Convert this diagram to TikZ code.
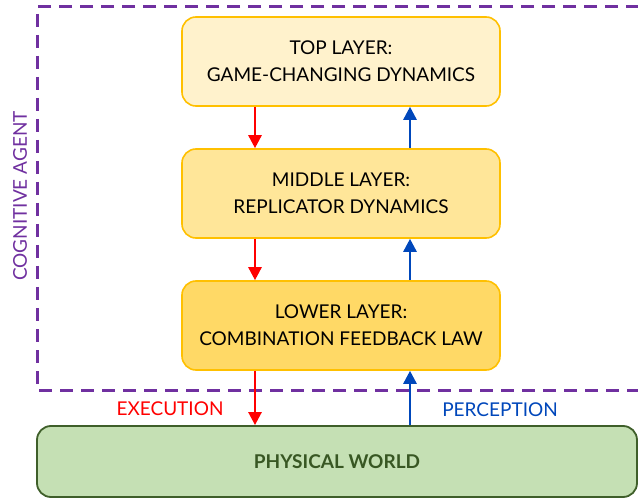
\documentclass[tikz,border=0pt]{standalone}
\usepackage{fontspec}
\setmainfont{Lato}
\usetikzlibrary{arrows.meta}
\usetikzlibrary{positioning}

\definecolor{agentpurple}{HTML}{7030A0}
\definecolor{layerline}{HTML}{FFC000}
\definecolor{toplayer}{HTML}{FFF2CC}
\definecolor{midlayer}{HTML}{FFE699}
\definecolor{lowlayer}{HTML}{FFD966}
\definecolor{worldfill}{HTML}{C5E0B4}
\definecolor{worldline}{HTML}{3F5F2A}
\definecolor{worldtext}{HTML}{385723}
\definecolor{percblue}{HTML}{0047BB}

\tikzset{
layer/.style={rectangle,rounded corners=14pt,draw=layerline,line width=1.6pt,minimum width=318pt,minimum height=89pt,align=center,font=\fontsize{19}{27}\selectfont},
execline/.style={draw=red,line width=2.6pt,-{Triangle[length=13pt,width=13pt]}},
percline/.style={draw=percblue,line width=2.6pt,-{Triangle[length=13pt,width=13pt]}}
}

\begin{document}
\begin{tikzpicture}[x=1pt,y=-1pt]
\clip (0,0) rectangle (638,500);
\fill[white] (0,0) rectangle (638,500);
\draw[agentpurple,line width=3pt,dash pattern=on 13pt off 8pt] (660,7) -- (37,7) -- (37,390) -- (660,390);
\node[text=agentpurple,rotate=90,font=\fontsize{19}{22}\selectfont] (agent) at (20,196) {COGNITIVE AGENT};

\node[layer,fill=toplayer] (top) at (341,61.5) {TOP LAYER:\\GAME-CHANGING DYNAMICS};
\node[layer,fill=midlayer] (mid) at (341,193.5) {MIDDLE LAYER:\\REPLICATOR DYNAMICS};
\node[layer,fill=lowlayer] (low) at (341,325.5) {LOWER LAYER:\\COMBINATION FEEDBACK LAW};
\node[rectangle,rounded corners=14pt,draw=worldline,line width=1.8pt,fill=worldfill,minimum width=600pt,minimum height=71pt,text=worldtext,font=\fontsize{19}{22}\selectfont\bfseries] (world) at (337,461.5) {PHYSICAL WORLD};

\draw[execline] ([xshift=-86pt]top.south) -- ([xshift=-86pt]mid.north);
\draw[execline] ([xshift=-86pt]mid.south) -- ([xshift=-86pt]low.north);
\draw[execline] ([xshift=-86pt]low.south) -- (world.north -| {255,0});
\draw[percline] ([xshift=69pt]mid.north) -- ([xshift=69pt]top.south);
\draw[percline] ([xshift=69pt]low.north) -- ([xshift=69pt]mid.south);
\draw[percline] (world.north -| {410,0}) -- ([xshift=69pt]low.south);

\node[text=red,font=\fontsize{19}{22}\selectfont] (exec) at (170,409) {EXECUTION};
\node[text=percblue,font=\fontsize{19}{22}\selectfont] (perc) at (500,410) {PERCEPTION};
\end{tikzpicture}
\end{document}
